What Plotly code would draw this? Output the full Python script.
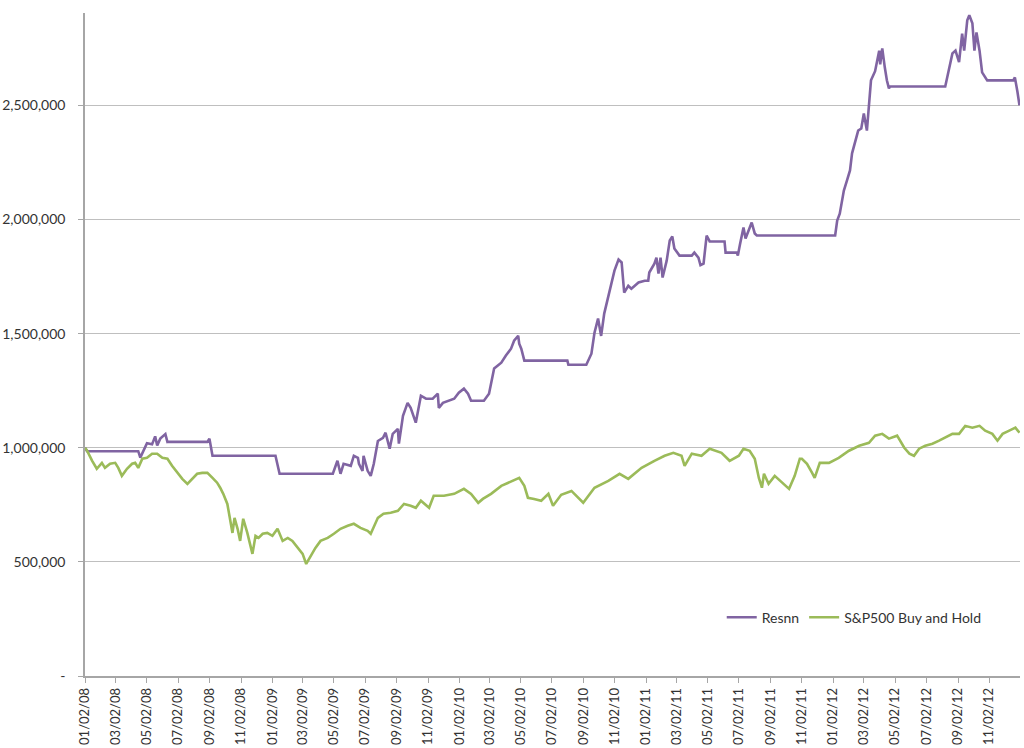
import plotly.graph_objects as go

# ---- Data ----
resnn_dates = [
    "2008-01-02", "2008-01-06", "2008-04-15", "2008-04-19", "2008-05-02", "2008-05-12",
    "2008-05-18", "2008-05-22", "2008-05-28", "2008-06-07", "2008-06-11", "2008-06-13",
    "2008-08-28", "2008-09-01", "2008-09-07", "2009-01-08", "2009-01-16", "2009-04-30",
    "2009-05-09", "2009-05-15", "2009-05-21", "2009-06-04", "2009-06-10", "2009-06-18",
    "2009-06-20", "2009-06-27", "2009-06-29", "2009-07-07", "2009-07-13", "2009-07-19",
    "2009-07-27", "2009-08-06", "2009-08-11", "2009-08-19", "2009-08-25", "2009-09-04",
    "2009-09-06", "2009-09-14", "2009-09-23", "2009-09-29", "2009-10-09", "2009-10-13",
    "2009-10-19", "2009-10-29", "2009-11-11", "2009-11-21", "2009-11-23", "2009-12-01",
    "2009-12-11", "2009-12-23", "2010-01-01", "2010-01-11", "2010-01-19", "2010-01-25",
    "2010-02-19", "2010-03-01", "2010-03-11", "2010-03-25", "2010-04-03", "2010-04-13",
    "2010-04-19", "2010-04-27", "2010-04-29", "2010-05-03", "2010-05-09", "2010-08-01",
    "2010-08-03", "2010-09-07", "2010-09-17", "2010-09-23", "2010-09-30", "2010-10-06",
    "2010-10-12", "2010-10-20", "2010-10-26", "2010-11-01", "2010-11-09", "2010-11-15",
    "2010-11-20", "2010-11-28", "2010-12-04", "2010-12-18", "2010-12-30", "2011-01-06",
    "2011-01-08", "2011-01-18", "2011-01-22", "2011-01-26", "2011-01-30", "2011-02-03",
    "2011-02-11", "2011-02-17", "2011-02-22", "2011-02-26", "2011-03-08", "2011-04-01",
    "2011-04-06", "2011-04-14", "2011-04-18", "2011-04-24", "2011-04-30", "2011-05-06",
    "2011-06-04", "2011-06-06", "2011-06-28", "2011-06-30", "2011-07-04", "2011-07-11",
    "2011-07-15", "2011-07-21", "2011-07-27", "2011-08-02", "2011-08-06", "2012-01-06",
    "2012-01-10", "2012-01-15", "2012-01-23", "2012-01-29", "2012-02-04", "2012-02-08",
    "2012-02-14", "2012-02-20", "2012-02-26", "2012-03-02", "2012-03-08", "2012-03-12",
    "2012-03-16", "2012-03-24", "2012-04-01", "2012-04-03", "2012-04-07", "2012-04-12",
    "2012-04-16", "2012-04-20", "2012-04-22", "2012-08-08", "2012-08-12", "2012-08-22",
    "2012-08-28", "2012-09-04", "2012-09-10", "2012-09-14", "2012-09-20", "2012-09-24",
    "2012-09-30", "2012-10-04", "2012-10-08", "2012-10-14", "2012-10-19", "2012-10-25",
    "2012-10-29", "2012-12-19", "2012-12-22", "2012-12-27", "2012-12-31",
]
resnn_values = [
    1000000, 985000, 985000, 957000, 1020000, 1015000,
    1050000, 1010000, 1040000, 1060000, 1025000, 1026000,
    1026000, 1040000, 965000, 965000, 886000, 886000,
    943000, 886000, 930000, 921000, 965000, 956000,
    930000, 899000, 965000, 899000, 877000, 930000,
    1030000, 1044000, 1066000, 996000, 1061000, 1083000,
    1018000, 1140000, 1197000, 1175000, 1110000, 1162000,
    1228000, 1215000, 1215000, 1237000, 1175000, 1197000,
    1206000, 1215000, 1241000, 1259000, 1237000, 1206000,
    1206000, 1237000, 1347000, 1373000, 1404000, 1434000,
    1469000, 1491000, 1456000, 1434000, 1382000, 1382000,
    1364000, 1364000, 1412000, 1504000, 1566000, 1490000,
    1588000, 1667000, 1724000, 1776000, 1825000, 1812000,
    1680000, 1710000, 1697000, 1724000, 1732000, 1732000,
    1768000, 1807000, 1833000, 1763000, 1833000, 1746000,
    1820000, 1908000, 1926000, 1873000, 1842000, 1842000,
    1855000, 1833000, 1800000, 1807000, 1930000, 1904000,
    1904000, 1855000, 1855000, 1842000, 1890000, 1965000,
    1917000, 1952000, 1987000, 1939000, 1930000, 1930000,
    1996000, 2026000, 2127000, 2171000, 2215000, 2290000,
    2347000, 2390000, 2399000, 2465000, 2390000, 2490000,
    2610000, 2650000, 2740000, 2680000, 2750000, 2666000,
    2610000, 2575000, 2583000, 2583000, 2623000, 2728000,
    2740000, 2690000, 2815000, 2740000, 2873000, 2895000,
    2860000, 2740000, 2820000, 2740000, 2645000, 2623000,
    2610000, 2610000, 2623000, 2560000, 2500000,
]

sp_dates = [
    "2008-01-02", "2008-01-06", "2008-01-16", "2008-01-25", "2008-02-04", "2008-02-10",
    "2008-02-20", "2008-03-01", "2008-03-07", "2008-03-14", "2008-03-24", "2008-04-03",
    "2008-04-09", "2008-04-15", "2008-04-23", "2008-05-02", "2008-05-12", "2008-05-22",
    "2008-06-01", "2008-06-11", "2008-06-20", "2008-06-30", "2008-07-10", "2008-07-20",
    "2008-07-30", "2008-08-08", "2008-08-18", "2008-08-28", "2008-09-07", "2008-09-16",
    "2008-09-22", "2008-09-28", "2008-10-06", "2008-10-12", "2008-10-16", "2008-10-20",
    "2008-10-26", "2008-10-31", "2008-11-06", "2008-11-14", "2008-11-24", "2008-11-30",
    "2008-12-06", "2008-12-14", "2008-12-23", "2009-01-02", "2009-01-12", "2009-01-22",
    "2009-02-01", "2009-02-10", "2009-02-20", "2009-03-02", "2009-03-09", "2009-03-18",
    "2009-03-27", "2009-04-06", "2009-04-20", "2009-05-02", "2009-05-15", "2009-05-29",
    "2009-06-10", "2009-06-23", "2009-07-07", "2009-07-13", "2009-07-27", "2009-08-07",
    "2009-08-21", "2009-09-04", "2009-09-16", "2009-09-29", "2009-10-09", "2009-10-19",
    "2009-11-04", "2009-11-13", "2009-12-03", "2009-12-23", "2010-01-11", "2010-01-25",
    "2010-02-08", "2010-02-17", "2010-03-05", "2010-03-25", "2010-04-09", "2010-04-29",
    "2010-05-09", "2010-05-16", "2010-05-28", "2010-06-11", "2010-06-25", "2010-07-04",
    "2010-07-20", "2010-08-09", "2010-09-01", "2010-09-23", "2010-10-20", "2010-11-11",
    "2010-11-28", "2010-12-24", "2011-01-18", "2011-02-07", "2011-02-24", "2011-03-12",
    "2011-03-18", "2011-04-01", "2011-04-20", "2011-05-06", "2011-05-29", "2011-06-14",
    "2011-07-02", "2011-07-11", "2011-07-23", "2011-08-02", "2011-08-10", "2011-08-16",
    "2011-08-20", "2011-08-29", "2011-09-10", "2011-09-24", "2011-10-08", "2011-10-19",
    "2011-10-29", "2011-11-02", "2011-11-12", "2011-11-22", "2011-11-27", "2011-12-07",
    "2011-12-25", "2012-01-13", "2012-02-02", "2012-02-22", "2012-03-12", "2012-03-24",
    "2012-04-07", "2012-04-20", "2012-05-06", "2012-05-20", "2012-05-30", "2012-06-08",
    "2012-06-18", "2012-06-30", "2012-07-14", "2012-07-27", "2012-08-08", "2012-08-22",
    "2012-09-04", "2012-09-16", "2012-09-30", "2012-10-14", "2012-10-25", "2012-11-08",
    "2012-11-18", "2012-11-28", "2012-12-11", "2012-12-23", "2012-12-31",
]
sp_values = [
    1000000, 987000, 943000, 908000, 934000, 912000,
    930000, 934000, 912000, 877000, 908000, 930000,
    934000, 912000, 952000, 956000, 974000, 974000,
    956000, 952000, 921000, 890000, 864000, 842000,
    864000, 886000, 890000, 890000, 868000, 847000,
    825000, 798000, 754000, 680000, 627000, 693000,
    645000, 592000, 689000, 627000, 535000, 614000,
    605000, 623000, 627000, 614000, 645000, 592000,
    605000, 592000, 561000, 535000, 491000, 526000,
    561000, 592000, 605000, 623000, 645000, 658000,
    667000, 649000, 636000, 623000, 693000, 711000,
    715000, 724000, 754000, 746000, 737000, 768000,
    737000, 790000, 790000, 798000, 820000, 798000,
    759000, 776000, 798000, 833000, 847000, 868000,
    833000, 781000, 776000, 768000, 798000, 746000,
    794000, 811000, 759000, 825000, 855000, 886000,
    864000, 912000, 943000, 965000, 978000, 965000,
    921000, 974000, 965000, 996000, 978000, 943000,
    965000, 996000, 987000, 952000, 868000, 825000,
    886000, 842000, 877000, 847000, 820000, 877000,
    952000, 952000, 930000, 890000, 868000, 934000,
    934000, 956000, 987000, 1009000, 1022000, 1053000,
    1061000, 1040000, 1053000, 1000000, 974000, 965000,
    996000, 1009000, 1018000, 1031000, 1044000, 1061000,
    1061000, 1096000, 1088000, 1096000, 1075000, 1061000,
    1031000, 1061000, 1075000, 1088000, 1066000,
]

x_tick_dates = [
    "2008-01-02", "2008-03-02", "2008-05-02", "2008-07-02", "2008-09-02", "2008-11-02",
    "2009-01-02", "2009-03-02", "2009-05-02", "2009-07-02", "2009-09-02", "2009-11-02",
    "2010-01-02", "2010-03-02", "2010-05-02", "2010-07-02", "2010-09-02", "2010-11-02",
    "2011-01-02", "2011-03-02", "2011-05-02", "2011-07-02", "2011-09-02", "2011-11-02",
    "2012-01-02", "2012-03-02", "2012-05-02", "2012-07-02", "2012-09-02", "2012-11-02",
]
y_tick_values = [0, 500000, 1000000, 1500000, 2000000, 2500000]
y_tick_labels = ["-", "500,000", "1,000,000", "1,500,000", "2,000,000", "2,500,000"]

series_names = ["Resnn", "S&P500 Buy and Hold"]
series_colors = ["#8064A2", "#9BBB59"]

FONT = "Lato, 'Liberation Sans', sans-serif"
TEXT = "#333333"

fig = go.Figure()
fig.add_trace(go.Scatter(
    x=resnn_dates, y=resnn_values, mode="lines", name=series_names[0],
    line=dict(color=series_colors[0], width=2.6),
))
fig.add_trace(go.Scatter(
    x=sp_dates, y=sp_values, mode="lines", name=series_names[1],
    line=dict(color=series_colors[1], width=2.6),
))

fig.update_layout(
    width=1024, height=748,
    margin=dict(l=85, r=4, t=13, b=72),
    paper_bgcolor="white", plot_bgcolor="white",
    font=dict(family=FONT, size=14, color=TEXT),
    showlegend=True,
    legend=dict(
        orientation="h", x=0.681, y=0.088, xanchor="left", yanchor="middle",
        bgcolor="rgba(0,0,0,0)", font=dict(size=14, color=TEXT),
        itemwidth=30, tracegroupgap=0,
    ),
    xaxis=dict(
        type="date",
        range=["2008-01-02", "2013-01-01"],
        tickvals=x_tick_dates,
        tickformat="%m/%d/%y",
        tickangle=-90,
        ticks="outside", ticklen=5, tickcolor="#A6A6A6",
        showline=True, linecolor="#A6A6A6", linewidth=1.5,
        showgrid=False, zeroline=False, automargin=False,
        tickfont=dict(size=13, color=TEXT),
    ),
    yaxis=dict(
        range=[0, 2905000],
        tickvals=y_tick_values,
        ticktext=y_tick_labels,
        ticks="outside", ticklen=5, tickcolor="#A6A6A6",
        ticklabelstandoff=10,
        showline=True, linecolor="#A6A6A6", linewidth=1.5,
        showgrid=True, gridcolor="#BFBFBF", gridwidth=1,
        zeroline=False, automargin=False,
        tickfont=dict(size=14, color=TEXT),
    ),
)

# Remove the default page margin so the 1024x748 figure fills the window exactly.
fig.write_html(
    "out.html",
    config={"displayModeBar": False},
    post_script="document.body.style.margin='0';document.body.style.padding='0';",
)
